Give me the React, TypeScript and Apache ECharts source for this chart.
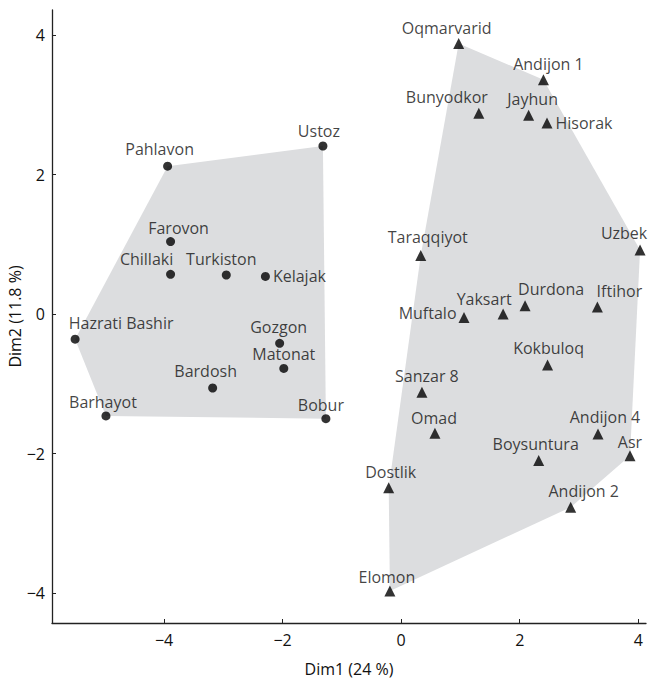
import React, { useEffect, useRef } from "react";
import * as echarts from "echarts";

// Group 1 (circles)
const circleNames = ["Pahlavon", "Ustoz", "Farovon", "Chillaki", "Turkiston", "Kelajak", "Hazrati Bashir", "Gozgon", "Matonat", "Bardosh", "Barhayot", "Bobur"];
const circleX = [-3.94, -1.32, -3.89, -3.89, -2.95, -2.29, -5.5, -2.05, -1.98, -3.18, -4.98, -1.27];
const circleY = [2.12, 2.41, 1.04, 0.57, 0.56, 0.54, -0.36, -0.42, -0.78, -1.06, -1.46, -1.5];

// Group 2 (triangles)
const triNames = ["Oqmarvarid", "Andijon 1", "Bunyodkor", "Jayhun", "Hisorak", "Uzbek", "Taraqqiyot", "Durdona", "Iftihor", "Yaksart", "Muftalo", "Kokbuloq", "Sanzar 8", "Omad", "Andijon 4", "Asr", "Boysuntura", "Dostlik", "Andijon 2", "Elomon"];
const triX = [0.97, 2.4, 1.31, 2.15, 2.46, 4.03, 0.33, 2.09, 3.31, 1.72, 1.06, 2.47, 0.35, 0.57, 3.32, 3.86, 2.32, -0.21, 2.86, -0.19];
const triY = [3.88, 3.36, 2.88, 2.85, 2.74, 0.92, 0.84, 0.12, 0.1, 0.0, -0.05, -0.73, -1.12, -1.71, -1.72, -2.03, -2.1, -2.49, -2.77, -3.97];

const xTicks = [-4, -2, 0, 2, 4];
const yTicks = [-4, -2, 0, 2, 4];
const xTitle = "Dim1 (24 %)";
const yTitle = "Dim2 (11.8 %)";

// label placement (style): [dx, dy] from marker centre, or side placement
const labelPlace: Record<string, any> = {
  Pahlavon: [-8, -17], Ustoz: [-4, -15], Farovon: [8, -14], Chillaki: [-24, -15], Turkiston: [-5, -16],
  Kelajak: "right", "Hazrati Bashir": [46, -16], Gozgon: [-1, -16], Matonat: [0, -14], Bardosh: [-7, -17],
  Barhayot: [-3, -14], Bobur: [-5, -14],
  Oqmarvarid: [-12, -15], "Andijon 1": [5, -16], Bunyodkor: [-32, -16], Jayhun: [4, -16], Hisorak: "right",
  Uzbek: [-16, -17], Taraqqiyot: [7, -18], Durdona: [26, -17], Iftihor: [22, -16], Yaksart: [-19, -15],
  Muftalo: "left", Kokbuloq: [1, -17], "Sanzar 8": [5, -16], Omad: [-1, -15], "Andijon 4": [7, -17],
  Asr: [0, -14], Boysuntura: [-3, -17], Dostlik: [2, -16], "Andijon 2": [13, -16], Elomon: [-3, -14],
};

const FONT = "'Open Sans', sans-serif";
const TXT = "#111111";

function hull(pts: number[][]): number[][] {
  const p = pts.slice().sort((a, b) => a[0] - b[0] || a[1] - b[1]);
  const cross = (o: number[], a: number[], b: number[]) => (a[0] - o[0]) * (b[1] - o[1]) - (a[1] - o[1]) * (b[0] - o[0]);
  const lower: number[][] = [];
  for (const q of p) {
    while (lower.length >= 2 && cross(lower[lower.length - 2], lower[lower.length - 1], q) <= 0) lower.pop();
    lower.push(q);
  }
  const upper: number[][] = [];
  for (let i = p.length - 1; i >= 0; i--) {
    const q = p[i];
    while (upper.length >= 2 && cross(upper[upper.length - 2], upper[upper.length - 1], q) <= 0) upper.pop();
    upper.push(q);
  }
  upper.pop();
  lower.pop();
  return lower.concat(upper);
}

function labelFor(name: string) {
  const pl = labelPlace[name];
  const base = { show: true, formatter: "{b}", fontFamily: FONT, fontSize: 16, color: TXT };
  if (pl === "right") return { ...base, position: "right", distance: 3, offset: [0, 0] };
  if (pl === "left") return { ...base, position: "left", distance: 2, offset: [0, -5] };
  return { ...base, position: "inside", offset: pl };
}

function fmt(v: number) {
  return v < 0 ? "\u2212" + Math.abs(v) : String(v);
}

export default function App() {
  const ref = useRef<HTMLDivElement>(null);
  useEffect(() => {
    if (!ref.current) return;
    const chart = echarts.init(ref.current, null, { renderer: "svg" });
    const cPts = circleX.map((x, i) => [x, circleY[i]]);
    const tPts = triX.map((x, i) => [x, triY[i]]);
    const hulls = [hull(cPts), hull(tPts)];

    const hullSeries = hulls.map((h) => ({
      type: "custom",
      z: 1,
      silent: true,
      data: [h[0]],
      encode: { x: 0, y: 1 },
      renderItem: (params: any, api: any) => ({
        type: "polygon",
        shape: { points: h.map((p) => api.coord(p)) },
        style: { fill: "#dcdddf", stroke: "none" },
      }),
    }));

    chart.setOption({
      animation: false,
      backgroundColor: "#ffffff",
      grid: { left: 52, right: 3, top: 10, bottom: 56, containLabel: false, outerBoundsMode: "none" },
      xAxis: {
        type: "value",
        min: -5.89,
        max: 4.13,
        name: xTitle,
        nameLocation: "middle",
        nameGap: 38,
        nameMoveOverlap: false,
        nameTextStyle: { fontFamily: FONT, fontSize: 16, color: TXT },
        axisLine: { show: true, onZero: false, lineStyle: { color: "#222", width: 1.3 } },
        axisTick: { show: true, inside: true, length: 4, customValues: xTicks, lineStyle: { color: "#222" } },
        axisLabel: { customValues: xTicks, formatter: fmt, fontFamily: FONT, fontSize: 16, color: TXT, margin: 9 },
        splitLine: { show: false },
      },
      yAxis: {
        type: "value",
        min: -4.43,
        max: 4.36,
        name: yTitle,
        nameLocation: "middle",
        nameGap: 29,
        nameMoveOverlap: false,
        nameTextStyle: { fontFamily: FONT, fontSize: 16, color: TXT },
        axisLine: { show: true, onZero: false, lineStyle: { color: "#222", width: 1.3 } },
        axisTick: { show: true, inside: true, length: 4, customValues: yTicks, lineStyle: { color: "#222" } },
        axisLabel: { customValues: yTicks, formatter: fmt, fontFamily: FONT, fontSize: 16, color: TXT, margin: 7 },
        splitLine: { show: false },
      },
      series: [
        ...hullSeries,
        {
          type: "scatter",
          z: 3,
          symbol: "circle",
          symbolSize: 9,
          itemStyle: { color: "#000" },
          data: circleNames.map((n, i) => ({ name: n, value: [circleX[i], circleY[i]], label: labelFor(n) })),
        },
        {
          type: "scatter",
          z: 3,
          symbol: "triangle",
          symbolSize: 11,
          itemStyle: { color: "#000" },
          data: triNames.map((n, i) => ({ name: n, value: [triX[i], triY[i]], label: labelFor(n) })),
        },
      ],
    });
    return () => chart.dispose();
  }, []);
  return <div ref={ref} style={{ position: "fixed", left: 0, top: 0, width: 649, height: 679 }} />;
}
